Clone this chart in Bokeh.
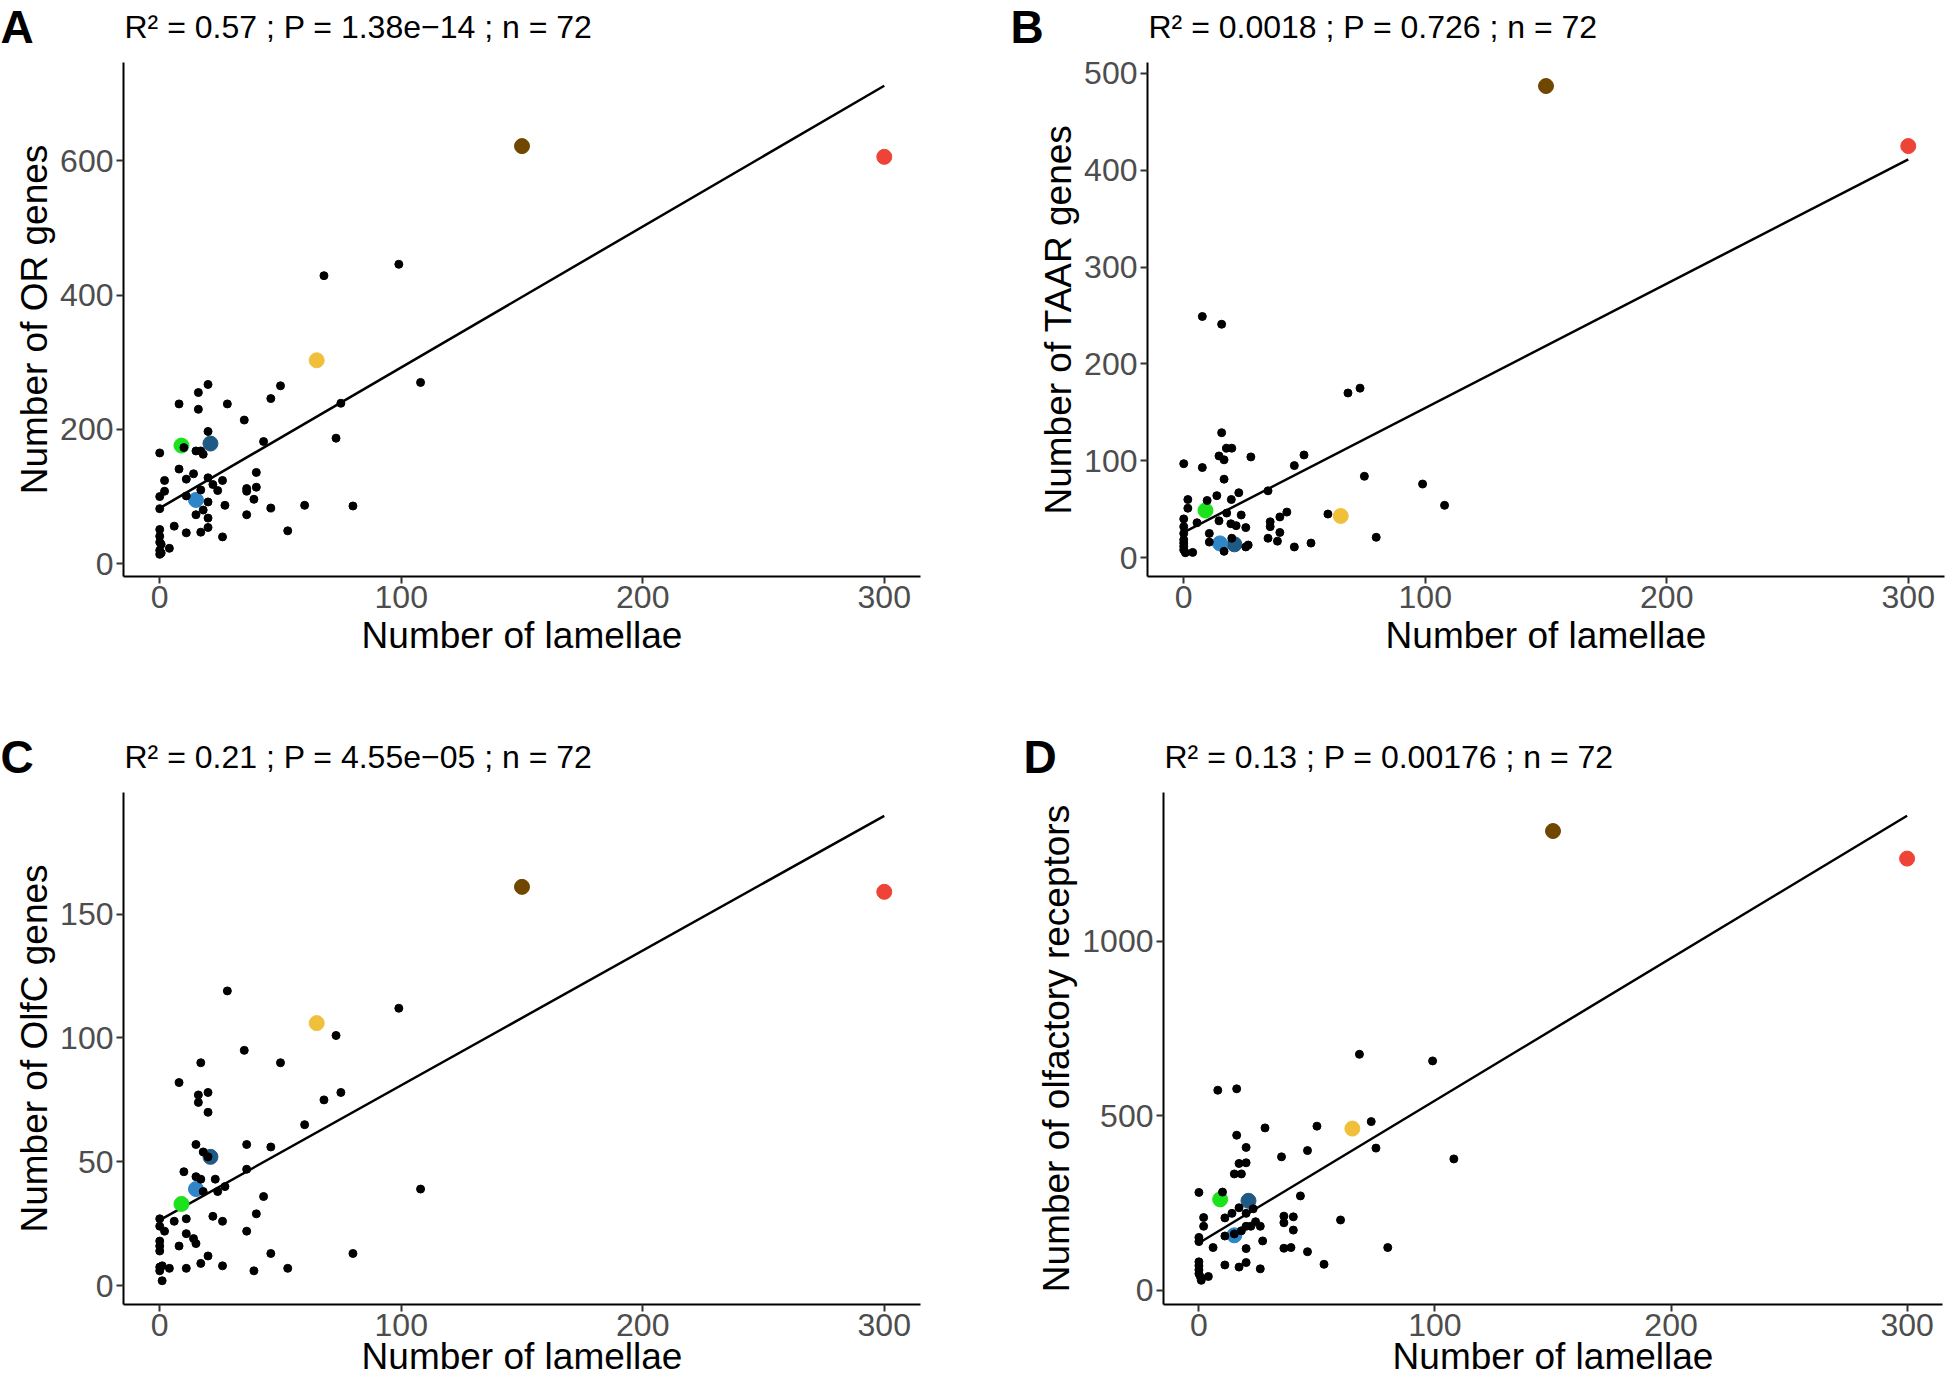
from bokeh.plotting import figure
from bokeh.models import Range1d, Label, FixedTicker, ColumnDataSource
from bokeh.layouts import row, column
from bokeh.embed import file_html
from bokeh.resources import INLINE

# ---------------- data ----------------
# highlighted species: green, dark blue, light blue, yellow, brown, red
hl_x = [9, 21, 15, 65, 150, 300]
hl_colors = ["#1BE21B", "#1F5A85", "#2E86C8", "#F0C03A", "#714700", "#EE4438"]

a_hl_y = [176, 179, 95, 303, 622, 606]
b_hl_y = [48.7, 13.7, 14.7, 43, 487, 425]
c_hl_y = [33, 52, 39, 106, 161, 159]
d_hl_y = [260, 256, 157, 463, 1316, 1237]

a_x = [99, 68, 108, 50, 20, 16, 8, 28, 16, 75, 46, 35, 20, 10, 73, 43, 0, 15, 17, 18,
       8, 14, 40, 11, 2, 20, 26, 22, 24, 17, 2, 36, 36, 40, 0, 11, 20, 39, 27, 46,
       60, 80, 0, 15, 18, 20, 36, 6, 20, 11, 17, 53, 26, 0, 0, 0, 0.6, 4, 0, 0.6, 0]
a_y = [446, 429, 270, 265, 267, 255, 238, 238, 230, 239, 246, 214, 197, 173, 187, 182, 165, 168, 168, 163,
       141, 134, 136, 126, 124, 128, 124, 118, 109, 110, 108, 112, 108, 114, 100, 101, 92, 96, 87, 83,
       87, 86, 82, 73, 80, 68, 73, 56, 54, 46, 47, 49, 40, 51, 41, 32, 29, 23, 20, 16, 14]

b_x = [7.7, 15.7, 68, 73, 15.7, 17.7, 19.9, 14.6, 16.7, 27.8, 0, 7.7, 45.8, 49.8, 16.7, 74.8, 98.9, 108,
       34.9, 22.8, 13.7, 19.7, 1.7, 9.7, 1.7, 17.8, 23.8, 42.7, 39.8, 59.7, 0, 5.5, 14.6, 19.5, 21.7,
       25.7, 35.8, 35.8, 0, 10.6, 39.8, 0, 34.9, 38.8, 79.7, 10.6, 19.9, 16.7, 25.7, 26.7, 45.8, 52.7,
       0, 0, 0, 0, 0.7, 3.7]
b_y = [249, 241, 170, 175, 129, 113, 113, 105, 101, 104, 97, 93, 95, 106, 81, 84, 76, 54,
       69, 67, 64, 60, 60, 59, 51, 46, 44, 47, 42, 45, 40, 36, 38, 35, 33,
       31, 37, 32, 32, 25, 26, 25, 20, 17, 21, 16, 20, 6.5, 11, 13, 11, 15,
       18.5, 15, 11.6, 8, 5, 5.4]

c_x = [28, 99, 73, 35, 17, 50, 8, 16, 20, 16, 75, 68, 20, 60, 15, 36, 46, 18, 20, 36,
       10, 15, 17, 23, 27, 24, 18, 108, 43, 0, 6, 11, 22, 26, 40, 0, 2, 36, 11, 14,
       15, 0, 0, 0, 8, 20, 17, 46, 80, 26, 0, 1, 4, 11, 39, 53, 0, 1]
c_y = [119, 112, 101, 95, 90, 90, 82, 77, 78, 74, 78, 75, 70, 65, 57, 57, 56, 54, 52, 47,
       46, 44, 43, 43, 40, 38, 38, 39, 36, 27, 26, 27, 28, 26, 29, 24, 22, 22, 21, 19,
       17, 18, 16, 14, 16, 12, 9, 13, 13, 8, 7.5, 8, 7, 7, 6, 7, 6, 2]

d_x = [68, 99, 8, 16, 73, 50, 28, 16, 20, 75, 46, 35, 108, 17, 20, 15, 18, 0, 10, 43,
       17, 14, 23, 20, 2, 11, 36, 40, 60, 2, 20, 22, 24, 26, 36, 40, 18, 11, 15, 0,
       0, 27, 6, 20, 36, 39, 46, 80, 0, 0, 0, 0, 0.7, 1, 4, 11, 20, 17, 26, 53]
d_y = [676, 657, 573, 577, 483, 470, 465, 444, 409, 407, 400, 382, 376, 363, 365, 333, 333, 280, 281, 270,
       236, 220, 233, 220, 208, 207, 212, 210, 201, 183, 183, 183, 196, 183, 193, 172, 170, 155, 161, 151,
       139, 141, 122, 119, 120, 122, 110, 122, 81, 70, 58, 47, 37, 28, 39, 72, 79, 66, 61, 74]

# fitted regression lines (intercept, slope)
fit_intercept = [82.8, 26.1, 26.5, 135]
fit_slope = [2.097, 1.284, 0.544, 4.083]

letters = ["A", "B", "C", "D"]
stats = ["R² = 0.57 ; P = 1.38e−14 ; n = 72",
         "R² = 0.0018 ; P = 0.726 ; n = 72",
         "R² = 0.21 ; P = 4.55e−05 ; n = 72",
         "R² = 0.13 ; P = 0.00176 ; n = 72"]
y_titles = ["Number of OR genes", "Number of TAAR genes",
            "Number of OlfC genes", "Number of olfactory receptors"]
x_title = "Number of lamellae"
x_ticks = [0, 100, 200, 300]
y_ticks = [[0, 200, 400, 600], [0, 100, 200, 300, 400, 500], [0, 50, 100, 150], [0, 500, 1000]]
y_ranges = [(-19, 746.5), (-19.5, 511.3), (-7.6, 199.1), (-41.3, 1426.5)]

FONT = "Liberation Sans"


def make_panel(i, xs, ys, hly, width, height, borders, letter_x, text_y, letter_side, xlab_standoff):
    bl, br, bt, bb = borders
    p = figure(width=width, height=height, output_backend="svg", toolbar_location=None,
               x_range=Range1d(-15, 315), y_range=Range1d(*y_ranges[i]),
               min_border_left=bl, min_border_right=br, min_border_top=bt, min_border_bottom=bb)
    p.outline_line_color = None
    p.xgrid.visible = False
    p.ygrid.visible = False
    p.background_fill_color = "white"
    p.border_fill_color = "white"

    for ax, ticks in ((p.xaxis, x_ticks), (p.yaxis, y_ticks[i])):
        ax.ticker = FixedTicker(ticks=ticks)
        ax.axis_line_color = "black"
        ax.axis_line_width = 2
        ax.major_tick_line_color = "#333333"
        ax.major_tick_line_width = 2
        ax.major_tick_out = 7
        ax.major_tick_in = 0
        ax.minor_tick_line_color = None
        ax.major_label_text_font = FONT
        ax.major_label_text_font_size = "32px"
        ax.major_label_text_color = "#4D4D4D"
        ax.axis_label_text_font = FONT
        ax.axis_label_text_font_size = "37px"
        ax.axis_label_text_font_style = "normal"
        ax.axis_label_text_color = "black"
    p.xaxis.major_label_standoff = 2
    p.xaxis.axis_label_standoff = xlab_standoff
    p.yaxis.major_label_standoff = 3
    p.yaxis.axis_label_standoff = 2
    p.xaxis.axis_label = x_title
    p.yaxis.axis_label = y_titles[i]

    # regression line across the data's x span
    x0, x1 = min(xs + hl_x), max(xs + hl_x)
    lx = [x0, x1]
    ly = [fit_intercept[i] + fit_slope[i] * v for v in lx]
    p.line(lx, ly, line_color="black", line_width=2.5)

    # highlighted species (drawn under the black points)
    src_hl = ColumnDataSource(dict(x=hl_x, y=hly, c=hl_colors))
    p.scatter("x", "y", source=src_hl, size=15, fill_color="c", line_color="c")
    p.scatter(xs, ys, size=8, fill_color="black", line_color="black")

    p.add_layout(Label(x=bl + 1, y=text_y, x_units="canvas", y_units="canvas", text=stats[i],
                       text_font=FONT, text_font_size="32px", text_color="black",
                       text_baseline="middle", text_align="left"), "above")
    p.add_layout(Label(x=letter_x, y=text_y, x_units="canvas", y_units="canvas", text=letters[i],
                       text_font=FONT, text_font_size="46px", text_font_style="bold",
                       text_color="black", text_baseline="middle", text_align="left"), letter_side)
    return p


pA = make_panel(0, a_x, a_y, a_hl_y, 973, 690, (123, 53, 62, 114), 0, 26, "right", 4)
pB = make_panel(1, b_x, b_y, b_hl_y, 972, 690, (174, 1, 62, 114), 37, 26, "left", 4)
pC = make_panel(2, c_x, c_y, c_hl_y, 973, 689, (123, 53, 102, 72), 0, 66, "right", -3)
pD = make_panel(3, d_x, d_y, d_hl_y, 972, 689, (190, 3, 102, 72), 50, 66, "left", -3)

layout = column(row(pA, pB), row(pC, pD))

with open("out.html", "w") as f:
    f.write(file_html(layout, INLINE))
